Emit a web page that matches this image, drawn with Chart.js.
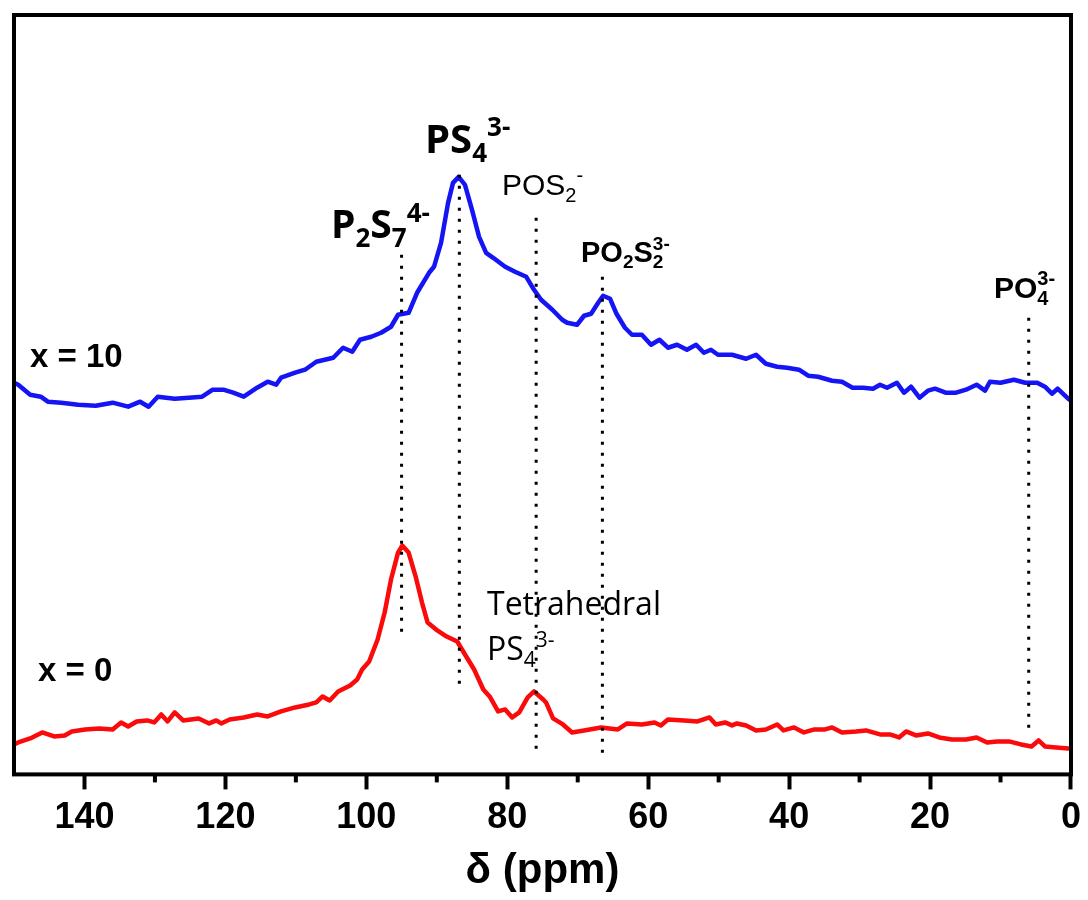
<!DOCTYPE html>
<html>
<head>
<meta charset="utf-8">
<title>31P NMR</title>
<script src="https://cdn.jsdelivr.net/npm/chart.js@4.4.1/dist/chart.umd.min.js"></script>
<style>
  html, body { margin: 0; padding: 0; background: #fff; }
  #wrap { width: 1088px; height: 900px; }
</style>
</head>
<body>
<div id="wrap"><canvas id="nmr" width="1088" height="900"></canvas></div>
<script>
// chemical shift (ppm) and intensity (a.u.)
const blueX = [150, 149.4, 147.7, 146.2, 145.2, 143.3, 140.9, 138.4, 136.0, 133.8, 132.1, 130.9, 129.6, 127.2, 125.2, 123.3,
  121.8, 120.3, 118.9, 117.4, 115.5, 114.0, 112.8, 112.1, 110.1, 108.7, 107.1, 104.7, 103.3, 102.0, 100.9, 99.3, 97.9,
  96.5, 95.5, 94.0, 92.8, 91.1, 90.4, 89.4, 88.4, 87.7, 86.9, 86.0, 85.0, 84.0, 83.0, 82.0, 80.3, 78.9, 77.3, 76.2, 75.2,
  73.6, 72.2, 71.5, 70.1, 69.1, 68.1, 67.1, 66.4, 65.4, 64.5, 63.3, 62.3, 60.9, 59.6, 58.4, 57.2, 55.9, 54.5, 53.2, 52.1,
  51.1, 50.1, 48.1, 46.1, 44.7, 43.3, 41.7, 40.3, 38.6, 37.3, 35.9, 33.9, 32.5, 31.0, 29.5, 28.1, 27.1, 26.1, 24.7, 23.7,
  22.7, 21.5, 20.3, 19.3, 17.8, 16.3, 14.9, 13.4, 12.2, 11.5, 10.0, 8.1, 6.5, 4.8, 3.7, 2.7, 1.9, 0.4, 0];
const blueY = [392, 390, 380, 378, 373, 372, 370, 369, 372, 368, 373, 368, 378, 376, 377, 378,
  385, 385, 382, 378, 387, 393, 390, 397, 402, 405, 413, 417, 427, 423, 435, 438, 442,
  448, 460, 462, 482, 502, 508, 532, 572, 592, 598, 590, 565, 538, 522, 517, 508, 503, 498, 485, 475,
  465, 455, 452, 450, 459, 461, 472, 479, 476, 461, 447, 440, 440, 430, 435, 427, 430, 425, 430, 422,
  425, 420, 420, 416, 420, 411, 408, 407, 405, 399, 398, 394, 393, 387, 387, 386, 390, 387, 392, 382,
  388, 377, 384, 386, 382, 382, 385, 390, 384, 393, 392, 395, 392, 392, 388, 381, 386, 376, 374];

const redX = [150, 149.4, 147.7, 146.0, 144.3, 142.8, 141.8, 139.9, 137.9, 136.0, 134.8, 133.8, 132.6, 131.1, 130.1, 129.1,
  128.2, 127.2, 126.0, 123.8, 122.3, 121.3, 120.6, 119.4, 117.4, 115.5, 114.0, 112.1, 110.1, 108.1, 107.1, 106.2, 105.2,
  104.0, 102.3, 101.3, 100.6, 99.6, 98.4, 97.4, 96.5, 95.5, 94.9, 94.0, 93.0, 92.1, 91.3, 90.1, 88.6, 87.1, 86.0, 84.7,
  83.4, 82.5, 81.3, 80.3, 79.3, 78.3, 77.1, 76.2, 74.9, 74.5, 73.5, 72.1, 70.8, 69.1, 66.7, 64.3, 63.0, 60.9, 59.1, 58.2,
  57.2, 54.9, 53.0, 51.3, 50.4, 49.1, 48.1, 47.4, 46.1, 44.7, 43.3, 41.7, 40.8, 39.3, 37.9, 36.4, 34.9, 33.9, 32.5, 30.5,
  29.1, 27.1, 25.7, 24.4, 23.4, 22.0, 20.3, 18.7, 16.9, 14.9, 13.4, 11.9, 10.5, 8.8, 7.1, 5.6, 4.6, 3.7, 2.1, 0.4, 0];
const redY = [30, 32, 36, 42, 38, 39, 43, 45, 46, 45, 52, 48, 53, 54, 52, 60,
  53, 62, 54, 56, 51, 54, 51, 55, 57, 60, 58, 63, 67, 70, 72, 78, 74,
  83, 89, 95, 105, 113, 135, 162, 195, 222, 229, 222, 198, 172, 152, 145, 138, 133, 120, 105,
  85, 78, 63, 65, 57, 62, 77, 83, 75, 72, 56, 50, 42, 44, 47, 45, 51, 50, 52, 49,
  55, 54, 53, 57, 50, 52, 49, 51, 49, 44, 45, 50, 44, 47, 42, 45, 45, 47, 42, 43,
  44, 40, 40, 37, 43, 39, 41, 37, 35, 35, 37, 32, 33, 33, 30, 28, 34, 28, 27, 26, 26];

// dotted guide lines: position and vertical extent
const markerPpm = [95.0, 86.8, 75.9, 66.5, 6.0];
const markerTop = [520, 600, 557, 498, 457];
const markerBottom = [142, 90, 23, 21, 42];

const toPoints = (xs, ys) => xs.map((x, i) => ({ x, y: ys[i] }));

const markerSets = markerPpm.map((p, i) => ({
  data: [{ x: p, y: markerTop[i] }, { x: p, y: markerBottom[i] }],
  borderColor: '#000',
  borderWidth: 3,
  borderDash: [3, 8],
  borderCapStyle: 'butt',
  pointRadius: 0
}));

// draws a formula like PO2S2(3-) with sub / superscripts
function drawRich(ctx, x, y, parts, size, family, weight) {
  const big = `${weight} ${size}px ${family}`;
  const small = `${weight} ${Math.round(size * 0.66)}px ${family}`;
  let cx = x;
  parts.forEach(([t, kind, t2]) => {
    if (!kind) {
      ctx.font = big;
      ctx.fillText(t, cx, y);
      cx += ctx.measureText(t).width;
    } else if (kind === 'sub') {
      ctx.font = small;
      ctx.fillText(t, cx, y + size * 0.22);
      cx += ctx.measureText(t).width;
    } else if (kind === 'sup') {
      ctx.font = small;
      ctx.fillText(t, cx, y - size * 0.42);
      cx += ctx.measureText(t).width;
    } else {
      ctx.font = small;
      ctx.fillText(t, cx, y + size * 0.22);
      ctx.fillText(t2, cx, y - size * 0.42);
      cx += Math.max(ctx.measureText(t).width, ctx.measureText(t2).width);
    }
  });
}

const decor = {
  id: 'decor',
  afterDraw(chart) {
    const { ctx, chartArea: a, scales } = chart;
    ctx.save();
    // frame
    ctx.strokeStyle = '#000';
    ctx.lineWidth = 4;
    ctx.strokeRect(a.left, a.top, a.right - a.left, a.bottom - a.top);
    // minor ticks
    for (let v = 10; v < 150; v += 20) {
      const px = scales.x.getPixelForValue(v);
      ctx.beginPath();
      ctx.moveTo(px, a.bottom);
      ctx.lineTo(px, a.bottom + 8);
      ctx.stroke();
    }
    ctx.fillStyle = '#000';
    ctx.textBaseline = 'alphabetic';
    const cal = '"Open Sans"';
    const ari = '"Liberation Sans"';
    drawRich(ctx, 331, 238, [['P'], ['2', 'sub'], ['S'], ['7', 'sub'], ['4-', 'sup']], 39, cal, 'bold');
    drawRich(ctx, 425, 153, [['PS'], ['4', 'sub'], ['3-', 'sup']], 40, cal, 'bold');
    drawRich(ctx, 502, 195, [['POS'], ['2', 'sub'], ['-', 'sup']], 30, ari, 'normal');
    drawRich(ctx, 581, 262, [['PO'], ['2', 'sub'], ['S'], ['2', 'both', '3-']], 29, ari, 'bold');
    drawRich(ctx, 994, 298, [['PO'], ['4', 'both', '3-']], 30, ari, 'bold');
    drawRich(ctx, 30, 367, [['x = 10']], 33, ari, 'bold');
    drawRich(ctx, 38, 681, [['x = 0']], 33, ari, 'bold');
    drawRich(ctx, 487, 615, [['Tetrahedral']], 32, cal, 'normal');
    drawRich(ctx, 487, 660, [['PS'], ['4', 'sub'], ['3-', 'sup']], 32, cal, 'normal');
    ctx.restore();
  }
};

new Chart(document.getElementById('nmr'), {
  type: 'line',
  data: {
    datasets: [
      ...markerSets,
      {
        data: toPoints(blueX, blueY),
        borderColor: '#1414f5',
        borderWidth: 4.5,
        borderJoinStyle: 'round',
        pointRadius: 0
      },
      {
        data: toPoints(redX, redY),
        borderColor: '#fa0a0a',
        borderWidth: 4.5,
        borderJoinStyle: 'round',
        pointRadius: 0
      }
    ]
  },
  options: {
    responsive: false,
    animation: false,
    devicePixelRatio: 1,
    layout: { padding: { left: 14, right: 16, top: 15, bottom: 0 } },
    plugins: { legend: { display: false }, tooltip: { enabled: false } },
    scales: {
      x: {
        type: 'linear',
        reverse: true,
        min: 0,
        max: 150,
        border: { display: false },
        grid: { drawOnChartArea: false, tickLength: 15, tickWidth: 4, tickColor: '#000' },
        ticks: {
          stepSize: 20,
          includeBounds: false,
          autoSkip: false,
          maxRotation: 0,
          padding: 7,
          color: '#000',
          font: { family: '"Liberation Sans"', size: 36, weight: 'bold' }
        },
        title: {
          display: true,
          text: 'δ (ppm)',
          color: '#000',
          font: { family: '"Liberation Sans"', size: 42, weight: 'bold' },
          padding: { top: 0, bottom: 3 }
        }
      },
      y: { display: false, min: 0, max: 760 }
    }
  },
  plugins: [decor]
});
</script>
</body>
</html>
